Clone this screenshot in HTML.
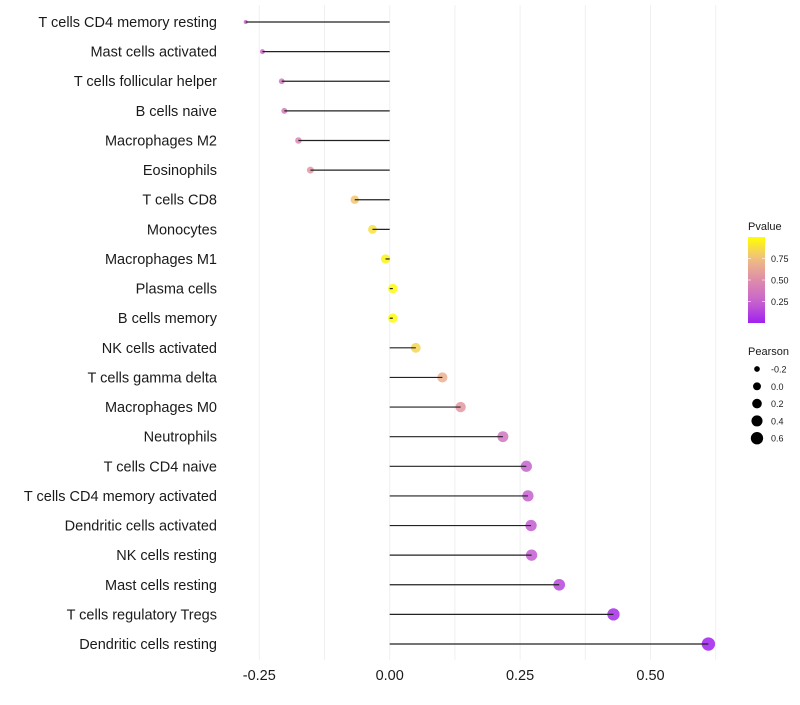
<!DOCTYPE html>
<html><head><meta charset="utf-8"><style>
body{margin:0;background:#fff;font-family:"Liberation Sans",sans-serif}
</style></head><body>
<svg id="chart" width="800" height="700" xmlns="http://www.w3.org/2000/svg">
<g id="grid"></g>
<g id="marks"></g>
<g id="ylabels"></g>
<g id="xlabels"></g>
<g id="legend"></g>
</svg>
<script>
const categories=["T cells CD4 memory resting","Mast cells activated","T cells follicular helper","B cells naive","Macrophages M2","Eosinophils","T cells CD8","Monocytes","Macrophages M1","Plasma cells","B cells memory","NK cells activated","T cells gamma delta","Macrophages M0","Neutrophils","T cells CD4 naive","T cells CD4 memory activated","Dendritic cells activated","NK cells resting","Mast cells resting","T cells regulatory  Tregs","Dendritic cells resting"];
const pearson=[-0.276,-0.244,-0.207,-0.202,-0.175,-0.152,-0.067,-0.033,-0.008,0.006,0.006,0.050,0.101,0.136,0.217,0.262,0.265,0.271,0.272,0.325,0.429,0.611];
const pvalues=[0.26,0.30,0.38,0.39,0.46,0.55,0.78,0.88,0.96,0.98,0.98,0.84,0.68,0.56,0.35,0.24,0.23,0.22,0.22,0.14,0.04,0.003];
const xTicks=[-0.25,0,0.25,0.5];
const xTickLabels=["-0.25","0.00","0.25","0.50"];
const xGrid=[-0.25,-0.125,0,0.125,0.25,0.375,0.5,0.625];
const legendP=[0.25,0.5,0.75];
const legendPLabels=["0.25","0.50","0.75"];
const legendSize=[-0.2,0,0.2,0.4,0.6];
const legendSizeLabels=["-0.2","0.0","0.2","0.4","0.6"];

const NS="http://www.w3.org/2000/svg";
const x=v=>389.7+v*521.6;
const y=i=>22+i*29.62;
const rad=v=>Math.sqrt(Math.max(3,v>=0?22+37*v:22+65*v));
const lrad=v=>Math.sqrt(Math.max(2.2,17.3+41.6*v));
const stops=[[0,[160,32,240]],[0.25,[200,100,205]],[0.5,[222,140,170]],[0.75,[240,190,130]],[1,[255,255,0]]];
function col(p){for(let k=1;k<stops.length;k++){if(p<=stops[k][0]){const a=stops[k-1],b=stops[k],t=(p-a[0])/(b[0]-a[0]);const c=a[1].map((v,j)=>Math.round(v+(b[1][j]-v)*t));return `rgb(${c})`;}}return "rgb(255,255,0)";}
function mk(tag,attrs,parent){const e=document.createElementNS(NS,tag);for(const k in attrs)e.setAttribute(k,attrs[k]);document.getElementById(parent).appendChild(e);return e;}

xGrid.forEach(g=>{const l=mk('line',{x1:x(g),x2:x(g),y1:5,y2:660,stroke:'#f0f0f0','stroke-width':1},'grid');

});

categories.forEach((c,i)=>{
 const v=pearson[i];
 const pt=mk('circle',{cx:x(v),cy:y(i),r:rad(v),fill:col(pvalues[i]),'fill-opacity':0.85},'marks');
 
 
 const s=mk('line',{x1:x(0),x2:x(v),y1:y(i),y2:y(i),stroke:'#222','stroke-width':1.2},'marks');
 
 
 const t=mk('text',{x:217,y:y(i)+5,'text-anchor':'end','font-size':14.5,fill:'#1a1a1a'},'ylabels');
 t.textContent=c;
 
 
});
xTicks.forEach((v,i)=>{const t=mk('text',{x:x(v),y:680,'text-anchor':'middle','font-size':14.5,fill:'#1a1a1a'},'xlabels');
t.textContent=xTickLabels[i];

});

const lt=mk('text',{x:748,y:230,'font-size':11,fill:'#1a1a1a'},'legend');lt.textContent='Pvalue';


const defs=mk('defs',{},'legend');
const gr=document.createElementNS(NS,'linearGradient');gr.setAttribute('id','pg');gr.setAttribute('x1','0');gr.setAttribute('y1','1');gr.setAttribute('x2','0');gr.setAttribute('y2','0');defs.appendChild(gr);
for(let k=0;k<=10;k++){const s=document.createElementNS(NS,'stop');s.setAttribute('offset',k/10);s.setAttribute('stop-color',col(k/10));gr.appendChild(s);}
const cb=mk('rect',{x:748,y:237,width:17,height:86,fill:'url(#pg)'},'legend');


legendP.forEach((p,i)=>{const yy=323-p*86;
mk('line',{x1:748,x2:751,y1:yy,y2:yy,stroke:'#fff','stroke-opacity':0.6},'legend');
mk('line',{x1:762,x2:765,y1:yy,y2:yy,stroke:'#fff','stroke-opacity':0.6},'legend');
const t=mk('text',{x:771,y:yy+3.5,'font-size':9,fill:'#1a1a1a'},'legend');t.textContent=legendPLabels[i];

});
const st=mk('text',{x:748,y:355,'font-size':11,fill:'#1a1a1a'},'legend');st.textContent='Pearson';


legendSize.forEach((v,i)=>{const yy=369+i*17.3;
const c=mk('circle',{cx:757,cy:yy,r:lrad(v)*0.95,fill:'#000'},'legend');


const t=mk('text',{x:771,y:yy+3.5,'font-size':9,fill:'#1a1a1a'},'legend');t.textContent=legendSizeLabels[i];

});
</script>
</body></html>
